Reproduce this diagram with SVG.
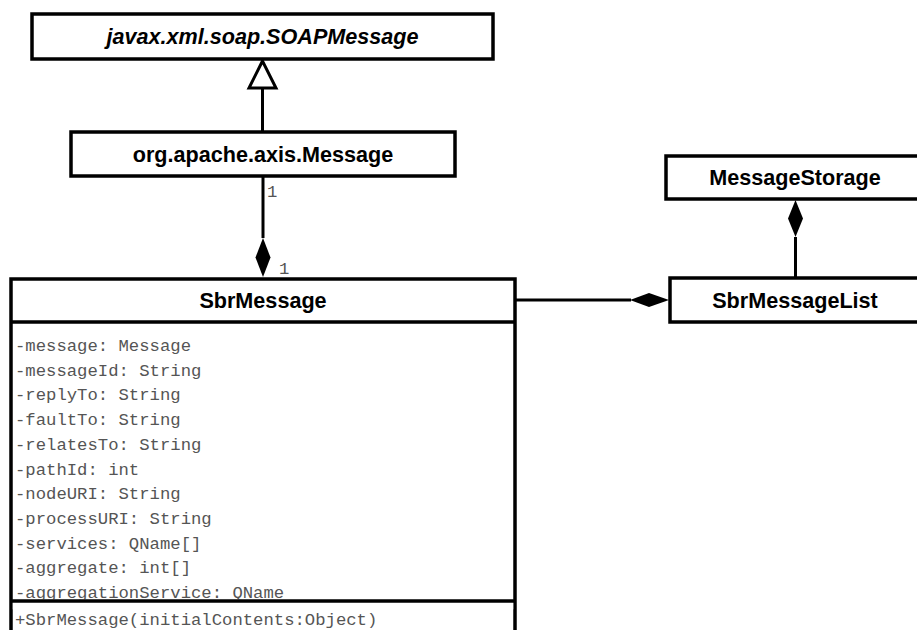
<svg xmlns="http://www.w3.org/2000/svg" width="917" height="630" viewBox="0 0 917 630">
<style>
.box{fill:#fff;stroke:#000;stroke-width:3.5}
.sep{stroke:#000;stroke-width:3.5}
.title{font-family:"Liberation Sans",Arial,sans-serif;font-weight:bold;font-size:21.6px;fill:#000;text-anchor:middle}
.it{font-style:italic}
.mono{font-family:"Liberation Mono","Courier New",monospace;font-size:17.25px;fill:#555}
.line{stroke:#000;stroke-width:3;fill:none}
</style>
<rect width="917" height="630" fill="#fff"/>
<g id="SOAPMessage">
<rect class="box" x="32" y="14" width="461" height="45"/>
<text class="title it" x="262.5" y="44">javax.xml.soap.SOAPMessage</text>
</g>
<g id="AxisMessage">
<rect class="box" x="71" y="132" width="384" height="44"/>
<text class="title" x="263" y="162">org.apache.axis.Message</text>
</g>
<g id="MessageStorage">
<rect class="box" x="666" y="156" width="270" height="43"/>
<text class="title" x="795" y="185">MessageStorage</text>
</g>
<g id="SbrMessageList">
<rect class="box" x="670" y="278" width="270" height="44"/>
<text class="title" x="795" y="308">SbrMessageList</text>
</g>
<g id="SbrMessage">
<rect class="box" x="11" y="279" width="504" height="370"/>
<text class="title" x="263" y="308">SbrMessage</text>
<g class="mono">
<text x="15" y="351">-message: Message</text>
<text x="15" y="375.7">-messageId: String</text>
<text x="15" y="400.4">-replyTo: String</text>
<text x="15" y="425.1">-faultTo: String</text>
<text x="15" y="449.8">-relatesTo: String</text>
<text x="15" y="474.5">-pathId: int</text>
<text x="15" y="499.2">-nodeURI: String</text>
<text x="15" y="523.9">-processURI: String</text>
<text x="15" y="548.6">-services: QName[]</text>
<text x="15" y="573.3">-aggregate: int[]</text>
<text x="15" y="598">-aggregationService: QName</text>
<text x="15" y="625">+SbrMessage(initialContents:Object)</text>
</g>
<line class="sep" x1="11" y1="322" x2="515" y2="322"/>
<rect x="12.8" y="599.3" width="500.4" height="10" fill="#fff"/>
<line class="sep" x1="11" y1="601" x2="515" y2="601"/>
</g>
<g id="connectors">
<line class="line" x1="262.5" y1="88" x2="262.5" y2="132"/>
<polygon points="262.5,61 249,88 276,88" fill="#fff" stroke="#000" stroke-width="3"/>
<line class="line" x1="263" y1="176" x2="263" y2="238"/>
<polygon points="263,238 270.5,257.5 263,277 255.5,257.5" fill="#000"/>
<text class="mono" x="267" y="197">1</text>
<text class="mono" x="279" y="274">1</text>
<line class="line" x1="515" y1="300" x2="631" y2="300"/>
<polygon points="630,300 649,293 669,300 649,307" fill="#000"/>
<line class="line" x1="795.5" y1="237" x2="795.5" y2="278"/>
<polygon points="795.5,200 803,218.5 795.5,237 788,218.5" fill="#000"/>
</g>
</svg>
